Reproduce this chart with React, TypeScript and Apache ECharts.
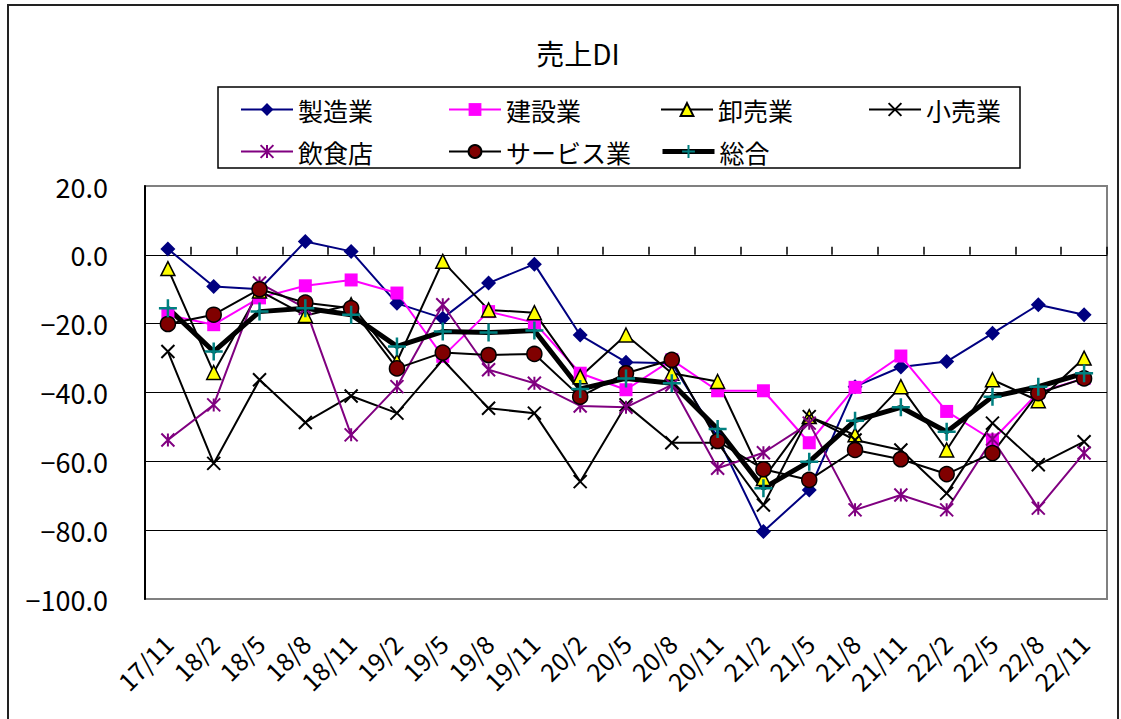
import React, { useEffect, useRef } from 'react';
import * as echarts from 'echarts';

const categories = ['17/11','18/2','18/5','18/8','18/11','19/2','19/5','19/8','19/11','20/2','20/5','20/8','20/11','21/2','21/5','21/8','21/11','22/2','22/5','22/8','22/11'];

const seizo = [1.7, -9.2, -10.0, 3.9, 1.0, -14.1, -18.4, -8.2, -2.7, -23.3, -31.2, -31.5, -53.0, -80.4, -68.3, -38.3, -32.6, -31.0, -22.8, -14.5, -17.4];
const kensetsu = [-17.5, -20.3, -12.5, -9.0, -7.3, -11.1, -29.5, -16.5, -19.7, -34.4, -39.2, -30.5, -39.5, -39.5, -54.6, -38.5, -29.4, -45.5, -53.8, -40.0, -35.9];
const oroshi = [-4.0, -34.2, -10.5, -17.6, -14.5, -31.0, -1.9, -16.0, -16.8, -35.4, -23.3, -34.4, -36.8, -65.0, -47.0, -52.3, -38.3, -56.7, -36.3, -42.4, -30.0];
const kouri = [-28.1, -60.6, -36.3, -48.7, -41.0, -46.0, -30.5, -44.6, -46.0, -65.9, -43.6, -54.6, -54.6, -72.7, -47.0, -53.8, -56.7, -69.3, -48.9, -61.0, -54.3];
const inshoku = [-53.8, -43.6, -8.2, -15.5, -52.3, -38.3, -14.5, -33.4, -37.3, -43.9, -44.3, -37.8, -62.0, -57.5, -48.9, -74.1, -69.8, -74.1, -53.5, -73.6, -57.6];
const service = [-20.1, -17.4, -10.0, -13.9, -15.5, -33.0, -28.4, -29.1, -28.8, -41.2, -34.4, -30.5, -54.1, -62.3, -65.4, -56.7, -59.4, -63.7, -57.6, -40.2, -35.9];
const sougou = [-15.5, -28.1, -16.5, -15.5, -17.4, -26.6, -22.3, -22.6, -22.0, -39.0, -35.9, -37.3, -50.6, -67.8, -60.1, -48.2, -44.3, -51.4, -41.2, -38.3, -34.4];

const yTicks = { min: -100, max: 20, interval: 20 };

const FONT = '"Noto Sans CJK JP", "Noto Sans", sans-serif';
const SYM_X = 'path://M0,0L10,10M10,0L0,10';
const SYM_STAR = 'path://M0,0L10,10M10,0L0,10M5,0L5,10';
const SYM_PLUS = 'path://M5,0L5,10M0,5L10,5';

export default function App() {
  const ref = useRef<HTMLDivElement>(null);
  useEffect(() => {
    if (!ref.current) return;
    const chart = echarts.init(ref.current, null, { renderer: 'svg' });

    const base = (name: string, data: number[]) => ({
      name,
      type: 'line',
      data,
      xAxisIndex: 0,
      yAxisIndex: 0,
      showAllSymbol: true,
      animation: false,
    });

    const series: any[] = [
      { ...base('製造業', seizo), symbol: 'diamond', symbolSize: 15,
        itemStyle: { color: '#000080' }, lineStyle: { color: '#000080', width: 2 } },
      { ...base('建設業', kensetsu), symbol: 'rect', symbolSize: 13,
        itemStyle: { color: '#FF00FF' }, lineStyle: { color: '#FF00FF', width: 2 } },
      { ...base('卸売業', oroshi), symbol: 'triangle', symbolSize: 14,
        itemStyle: { color: '#FFFF00', borderColor: '#000', borderWidth: 1.5 }, lineStyle: { color: '#000', width: 2 } },
      { ...base('小売業', kouri), symbol: SYM_X, symbolSize: 13,
        itemStyle: { color: '#000', borderColor: '#000', borderWidth: 2 }, lineStyle: { color: '#000', width: 2 } },
      { ...base('飲食店', inshoku), symbol: SYM_STAR, symbolSize: 13,
        itemStyle: { color: '#800080', borderColor: '#800080', borderWidth: 2 }, lineStyle: { color: '#800080', width: 2 } },
      { ...base('サービス業', service), symbol: 'circle', symbolSize: 15,
        itemStyle: { color: '#800000', borderColor: '#000', borderWidth: 1.5 }, lineStyle: { color: '#000', width: 2 } },
      { ...base('総合', sougou), symbol: SYM_PLUS, symbolSize: 18,
        itemStyle: { color: '#008080', borderColor: '#008080', borderWidth: 2.5 }, lineStyle: { color: '#000', width: 5 } },
    ];

    const legendPos = [[240, 97], [448, 97], [660, 97], [868, 97], [240, 139], [448, 139], [660, 139]];
    const legends = series.map((s, i) => ({
      data: [s.name],
      left: legendPos[i][0],
      top: legendPos[i][1],
      itemWidth: 52,
      itemHeight: 16,
      itemGap: 0,
      padding: 0,
      selectedMode: false,
      lineStyle: { width: 'inherit' },
      textStyle: { fontSize: 25, fontFamily: FONT, color: '#000' },
    }));

    const fmt = (v: number) => (v < 0 ? '\u2212' : '') + Math.abs(v).toFixed(1);

    chart.setOption({
      animation: false,
      backgroundColor: '#fff',
      textStyle: { fontFamily: FONT },
      legend: legends,
      grid: {
        left: 145, right: 14, top: 186, bottom: 120,
        show: true, borderColor: '#808080', borderWidth: 2, backgroundColor: 'transparent',
      },
      xAxis: [
        {
          type: 'category', data: categories, position: 'bottom', boundaryGap: true,
          axisLine: { show: false, onZero: false },
          axisTick: { show: false },
          axisLabel: { interval: 0, rotate: 45, fontSize: 25, margin: 40, color: '#000', fontFamily: FONT },
          splitLine: { show: false },
        },
        {
          type: 'category', data: categories, position: 'bottom', boundaryGap: true,
          axisLine: { show: true, onZero: true, lineStyle: { color: '#000', width: 1 } },
          axisTick: { show: true, inside: true, length: 8, lineStyle: { color: '#000', width: 1.5 } },
          axisLabel: { show: false },
          splitLine: { show: false },
        },
      ],
      yAxis: {
        type: 'value', min: yTicks.min, max: yTicks.max, interval: yTicks.interval,
        axisLine: { show: true, onZero: false, lineStyle: { color: '#000', width: 2 } },
        axisTick: { show: false },
        axisLabel: { formatter: fmt, fontSize: 27, margin: 37, color: '#000', fontFamily: FONT },
        splitLine: { show: true, lineStyle: { color: ['#808080', '#000', '#000', '#000', '#000', '#000', '#808080'], width: 1 } },
      },
      graphic: [
        { type: 'rect', shape: { x: 8, y: 5, width: 1110, height: 730 }, style: { fill: 'none', stroke: '#222', lineWidth: 2 }, silent: true, z: -1 },
        { type: 'rect', shape: { x: 218, y: 87, width: 802, height: 81 }, style: { fill: 'none', stroke: '#000', lineWidth: 1.5 }, silent: true },
        { type: 'text', x: 578, y: 53, style: { text: '売上DI', font: `28px ${FONT}`, fill: '#000', align: 'center', verticalAlign: 'middle' }, silent: true },
      ],
      series,
    });

    return () => chart.dispose();
  }, []);

  return <div ref={ref} style={{ position: 'absolute', left: 0, top: 0, width: 1121, height: 719 }} />;
}
